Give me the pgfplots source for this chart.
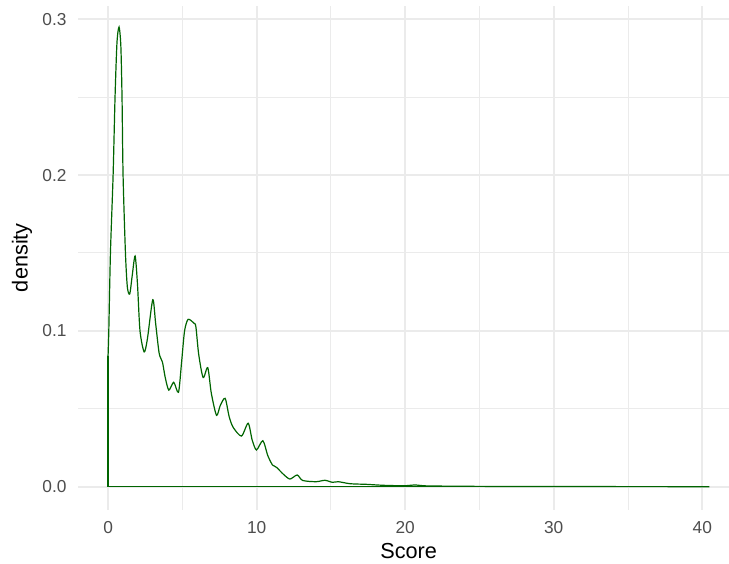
\documentclass[border=0pt]{standalone}
\usepackage{pgfplots}
\pgfplotsset{compat=1.18}
\usepackage{fontspec}
\setmainfont{Liberation Sans}
\definecolor{dkgreen}{HTML}{006400}
\definecolor{gridmaj}{HTML}{EBEBEB}
\definecolor{ticktxt}{HTML}{4D4D4D}
\begin{document}
\begin{tikzpicture}[x=1pt,y=1pt]
\clip (0,0) rectangle (729,564);
\begin{axis}[
  at={(78pt,54.4pt)}, anchor=south west,
  scale only axis, width=661.3pt, height=503.9pt,
  xmin=-2.0235, xmax=42.49, ymin=-0.0147, ymax=0.3087,
  xtick={0,10,20,30,40}, minor xtick={5,15,25,35},
  ytick={0,0.1,0.2,0.3}, minor ytick={0.05,0.15,0.25},
  scaled y ticks=false,
  yticklabel style={/pgf/number format/fixed, /pgf/number format/fixed zerofill, /pgf/number format/precision=1},
  /pgf/number format/assume math mode=true,
  grid=both,
  major grid style={gridmaj, line width=2.1pt},
  minor grid style={gridmaj, line width=1.05pt},
  axis line style={draw=none},
  major tick length=0pt, minor tick length=0pt,
  tick style={draw=none},
  ticklabel style={font=\fontsize{17.3}{20}\selectfont, text=ticktxt},
  xticklabel style={anchor=base, inner sep=0pt, yshift=-24pt},
  yticklabel style={anchor=east, inner sep=0pt, xshift=-11.3pt},
  xlabel={Score}, ylabel={density},
  label style={font=\fontsize{21.7}{26}\selectfont, text=black},
  xlabel style={at={(axis description cs:0.5,-0.098)}, anchor=base},
  ylabel style={at={(axis description cs:-0.0847,0.5)}, anchor=center},
  clip=false,
]
\addplot[dkgreen, line width=1.2pt] coordinates {(0,0) (0,0.084)};
\addplot[dkgreen, line width=1.2pt] coordinates {(0,0) (40.47,0)};
\addplot[dkgreen, line width=1.2pt, smooth, tension=0.45] coordinates {
(0,0.084) (0.05,0.10) (0.16,0.15) (0.34,0.20) (0.47,0.25) (0.6,0.285) (0.74,0.295)
(0.86,0.283) (0.94,0.25) (1.01,0.20) (1.17,0.15) (1.30,0.128) (1.46,0.1237)
(1.62,0.135) (1.82,0.148) (1.98,0.13) (2.15,0.10) (2.43,0.0865) (2.65,0.095)
(3.01,0.120) (3.2,0.105) (3.44,0.0856) (3.66,0.080) (3.85,0.07) (4.09,0.062)
(4.42,0.067) (4.74,0.0606) (4.95,0.08) (5.15,0.100) (5.39,0.1074) (5.77,0.105)
(5.91,0.1027) (6.1,0.085) (6.40,0.070) (6.71,0.0764) (6.95,0.06) (7.30,0.0458)
(7.55,0.052) (7.88,0.0567) (8.15,0.045) (8.42,0.0381) (8.98,0.0325) (9.43,0.0407)
(9.7,0.03) (9.99,0.0236) (10.42,0.0295) (10.75,0.02) (11.07,0.0139) (11.34,0.0124)
(11.8,0.008) (12.24,0.0049) (12.73,0.0075) (13.1,0.0040) (14.0,0.0032) (14.6,0.0041)
(15.1,0.0028) (15.5,0.0032) (16.3,0.0019) (17.4,0.0015) (18.5,0.0009) (19.9,0.0006)
(20.7,0.0011) (21.5,0.0005) (25,0.0002) (30,0.0001) (35,0.00005) (40.47,0)
};
\end{axis}
\end{tikzpicture}
\end{document}
